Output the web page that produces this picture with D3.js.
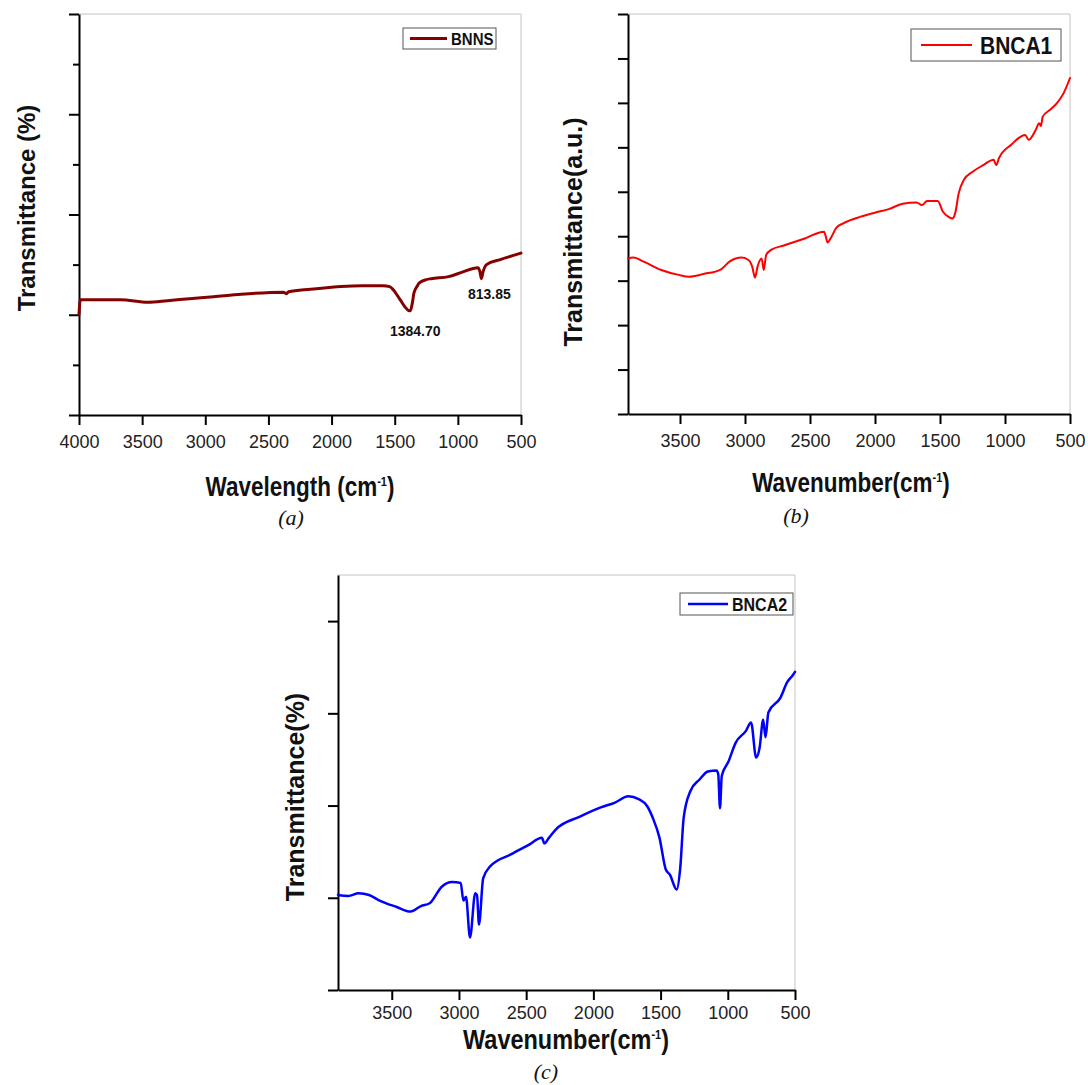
<!DOCTYPE html>
<html>
<head>
<meta charset="utf-8">
<script src="https://cdn.jsdelivr.net/npm/d3@7"></script>
<style>
  html, body { margin: 0; padding: 0; background: #fff; }
  svg { display: block; }
</style>
</head>
<body>
<svg id="fig" width="1088" height="1085"></svg>
<script>
// ---- FTIR spectra (transmittance in arbitrary units vs wavenumber, cm^-1) ----
const bnnsWavenumber = [4000, 3990, 3672, 3453, 3300, 3125, 2934, 2715, 2380, 2359, 2340, 2168, 1758, 1594, 1540, 1512, 1457, 1420, 1384.70, 1375, 1360, 1348, 1320, 1307, 1250, 1211, 1074, 965, 842, 825, 813.85, 800, 773, 664, 500];
const bnnsTransmittance = [2.00, 2.30, 2.30, 2.25, 2.28, 2.32, 2.36, 2.41, 2.45, 2.42, 2.46, 2.51, 2.58, 2.58, 2.56, 2.50, 2.30, 2.16, 2.08, 2.09, 2.24, 2.43, 2.58, 2.63, 2.70, 2.72, 2.76, 2.85, 2.94, 2.86, 2.72, 2.86, 3.00, 3.10, 3.23];

const bnca1Wavenumber = [3900, 3860, 3779, 3644, 3510, 3429, 3321, 3187, 3119, 3025, 2971, 2944, 2923, 2904, 2872, 2856, 2837, 2796, 2702, 2540, 2392, 2378, 2365, 2338, 2298, 2244, 2110, 2002, 1894, 1787, 1679, 1639, 1599, 1518, 1477, 1437, 1405, 1383, 1356, 1316, 1249, 1168, 1087, 1068, 1046, 952, 845, 818, 764, 737, 724, 710, 656, 602, 549, 500];
const bnca1Transmittance = [3.50, 3.52, 3.43, 3.24, 3.13, 3.09, 3.15, 3.25, 3.43, 3.52, 3.46, 3.31, 3.07, 3.31, 3.50, 3.24, 3.58, 3.70, 3.79, 3.95, 4.10, 3.99, 3.86, 3.97, 4.19, 4.29, 4.44, 4.53, 4.61, 4.73, 4.76, 4.70, 4.79, 4.79, 4.55, 4.44, 4.40, 4.52, 4.97, 5.27, 5.45, 5.60, 5.72, 5.60, 5.76, 6.06, 6.28, 6.17, 6.39, 6.54, 6.48, 6.69, 6.84, 6.99, 7.22, 7.56];

const bnca2Wavenumber = [3900, 3823, 3746, 3669, 3591, 3463, 3360, 3283, 3218, 3128, 3051, 2987, 2967, 2948, 2918, 2879, 2866, 2851, 2820, 2768, 2614, 2485, 2383, 2365, 2331, 2280, 2100, 1945, 1843, 1740, 1663, 1598, 1559, 1508, 1462, 1431, 1380, 1354, 1328, 1277, 1212, 1148, 1084, 1071, 1058, 1045, 994, 942, 865, 827, 789, 763, 737, 719, 698, 608, 557, 518, 500];
const bnca2Transmittance = [1.03, 1.02, 1.05, 1.03, 0.97, 0.90, 0.85, 0.91, 0.94, 1.12, 1.17, 1.16, 0.97, 1.01, 0.57, 1.05, 1.03, 0.71, 1.21, 1.34, 1.47, 1.57, 1.65, 1.59, 1.65, 1.74, 1.88, 1.98, 2.03, 2.10, 2.07, 1.99, 1.87, 1.65, 1.31, 1.25, 1.09, 1.32, 1.87, 2.16, 2.28, 2.37, 2.38, 2.34, 1.97, 2.32, 2.48, 2.68, 2.81, 2.90, 2.52, 2.63, 2.93, 2.74, 3.01, 3.17, 3.34, 3.41, 3.45];

// ---- axis ticks ----
const xTicksA = [4000, 3500, 3000, 2500, 2000, 1500, 1000, 500];
const xTicksBC = [3500, 3000, 2500, 2000, 1500, 1000, 500];
const yMajorA = [0, 2, 4, 6, 8];
const yMinorA = [1, 3, 5, 7];
const yTicksB = [0, 1, 2, 3, 4, 5, 6, 7, 8, 9];
const yTicksC = [0, 1, 2, 3, 4];

// ---- peak annotations (BNNS) ----
const bnnsPeaks = [
  { wn: 1384.70, label: "1384.70", dx: 6, dy: 25 },
  { wn: 813.85, label: "813.85", dx: 8, dy: 20 }
];

const SANS = "'Liberation Sans', Arial, sans-serif";
const SERIF = "'Liberation Serif', 'Times New Roman', serif";
const svg = d3.select("#fig");

function drawPanel(p) {
  const x = d3.scaleLinear().domain(p.xDomain).range([p.left, p.right]);
  const y = d3.scaleLinear().domain(p.yDomain).range([p.bottom, p.top]);
  const g = svg.append("g").style("font-family", SANS);

  // light top/right frame
  g.append("path")
    .attr("d", `M${p.left},${p.top}H${p.right}V${p.bottom}`)
    .attr("fill", "none").attr("stroke", "#c4c4c4").attr("stroke-width", 1);

  // left axis (unlabelled ticks)
  g.append("g").attr("transform", `translate(${p.left},0)`)
    .call(d3.axisLeft(y).tickValues(p.yMajor).tickSize(10).tickSizeOuter(0).tickFormat(""));
  if (p.yMinor) {
    g.append("g").attr("transform", `translate(${p.left},0)`)
      .call(d3.axisLeft(y).tickValues(p.yMinor).tickSize(6).tickSizeOuter(0).tickFormat(""))
      .call(s => s.select(".domain").remove());
  }
  // bottom axis
  const xAx = g.append("g").attr("transform", `translate(0,${p.bottom})`)
    .call(d3.axisBottom(x).tickValues(p.xTicks).tickSize(10).tickSizeOuter(0)
      .tickPadding(p.tickPad).tickFormat(d3.format("d")));
  g.selectAll(".domain, .tick line").attr("stroke", "#000").attr("stroke-width", 2);
  xAx.selectAll("text").style("font-family", SANS).style("font-size", "18px").attr("fill", "#222");

  // spectrum
  const line = d3.line().x((d, i) => x(p.wn[i])).y((d, i) => y(p.tr[i])).curve(d3.curveMonotoneX);
  g.append("path").datum(p.tr).attr("d", line)
    .attr("fill", "none").attr("stroke", p.color).attr("stroke-width", p.lineWidth)
    .attr("stroke-linejoin", "round").attr("stroke-linecap", "round");

  // legend
  const L = p.legend;
  g.append("rect").attr("x", L.x).attr("y", L.y).attr("width", L.w).attr("height", L.h)
    .attr("fill", "#fff").attr("stroke", "#555").attr("stroke-width", 1);
  g.append("line").attr("x1", L.x + L.l1).attr("x2", L.x + L.l2)
    .attr("y1", L.y + L.h / 2).attr("y2", L.y + L.h / 2)
    .attr("stroke", p.color).attr("stroke-width", p.lineWidth);
  g.append("text")
    .attr("transform", `translate(${L.x + L.tx},${L.y + L.h / 2}) scale(1,1.15)`)
    .attr("dy", "0.36em").style("font-size", L.fs + "px").attr("font-weight", "bold")
    .attr("fill", "#111").text(p.name);

  // axis titles
  g.append("text")
    .attr("transform", `translate(${p.yTitle.x},${p.yTitle.y}) rotate(-90)`)
    .attr("text-anchor", "middle").style("font-size", p.yTitle.fs + "px").attr("font-weight", "bold")
    .attr("fill", "#111").text(p.yTitle.text);
  const xt = g.append("text")
    .attr("transform", `translate(${p.xTitle.x},${p.xTitle.y}) scale(1,1.2)`)
    .attr("text-anchor", "middle").style("font-size", p.xTitle.fs + "px").attr("font-weight", "bold")
    .attr("fill", "#111");
  xt.append("tspan").text(p.xTitle.text);
  xt.append("tspan").attr("dy", -8).style("font-size", "11px").text("-1");
  xt.append("tspan").attr("dy", 8).text(")");

  // caption
  g.append("text").attr("x", p.caption.x).attr("y", p.caption.y)
    .attr("text-anchor", "middle").style("font-family", SERIF)
    .style("font-style", "italic").style("font-size", "22px").attr("fill", "#111").text(p.caption.text);

  return { x, y, g };
}

const a = drawPanel({
  name: "BNNS", wn: bnnsWavenumber, tr: bnnsTransmittance,
  color: "#850000", lineWidth: 3,
  xDomain: [4000, 500], yDomain: [0, 8],
  left: 79, right: 521, top: 14, bottom: 415,
  xTicks: xTicksA, yMajor: yMajorA, yMinor: yMinorA, tickPad: 10,
  legend: { x: 403, y: 28, w: 93, h: 21, l1: 7, l2: 44, tx: 48, fs: 15 },
  yTitle: { x: 35, y: 208, fs: 24, text: "Transmittance (%)" },
  xTitle: { x: 300, y: 496, fs: 22.5, text: "Wavelength (cm" },
  caption: { x: 291, y: 525, text: "(a)" }
});
bnnsPeaks.forEach(pk => {
  const i = bnnsWavenumber.indexOf(pk.wn);
  a.g.append("text")
    .attr("x", a.x(pk.wn) + pk.dx).attr("y", a.y(bnnsTransmittance[i]) + pk.dy)
    .attr("text-anchor", "middle").style("font-size", "14px").attr("font-weight", "bold")
    .attr("fill", "#111").text(pk.label);
});

drawPanel({
  name: "BNCA1", wn: bnca1Wavenumber, tr: bnca1Transmittance,
  color: "#ff0000", lineWidth: 2,
  xDomain: [3900, 500], yDomain: [0, 9],
  left: 628, right: 1070, top: 14, bottom: 414,
  xTicks: xTicksBC, yMajor: yTicksB, yMinor: null, tickPad: 10,
  legend: { x: 911, y: 29, w: 150, h: 32, l1: 10, l2: 61, tx: 69, fs: 21 },
  yTitle: { x: 582, y: 232, fs: 25, text: "Transmittance(a.u.)" },
  xTitle: { x: 851, y: 492, fs: 22.5, text: "Wavenumber(cm" },
  caption: { x: 796, y: 523, text: "(b)" }
});

drawPanel({
  name: "BNCA2", wn: bnca2Wavenumber, tr: bnca2Transmittance,
  color: "#0000ff", lineWidth: 2.5,
  xDomain: [3900, 500], yDomain: [0, 4.5],
  left: 338, right: 795, top: 575, bottom: 990,
  xTicks: xTicksBC, yMajor: yTicksC, yMinor: null, tickPad: 6,
  legend: { x: 680, y: 593, w: 113, h: 22, l1: 8, l2: 48, tx: 52, fs: 16 },
  yTitle: { x: 304, y: 797, fs: 25, text: "Transmittance(%)" },
  xTitle: { x: 566, y: 1049, fs: 23.5, text: "Wavenumber(cm" },
  caption: { x: 546, y: 1079, text: "(c)" }
});
</script>
</body>
</html>
